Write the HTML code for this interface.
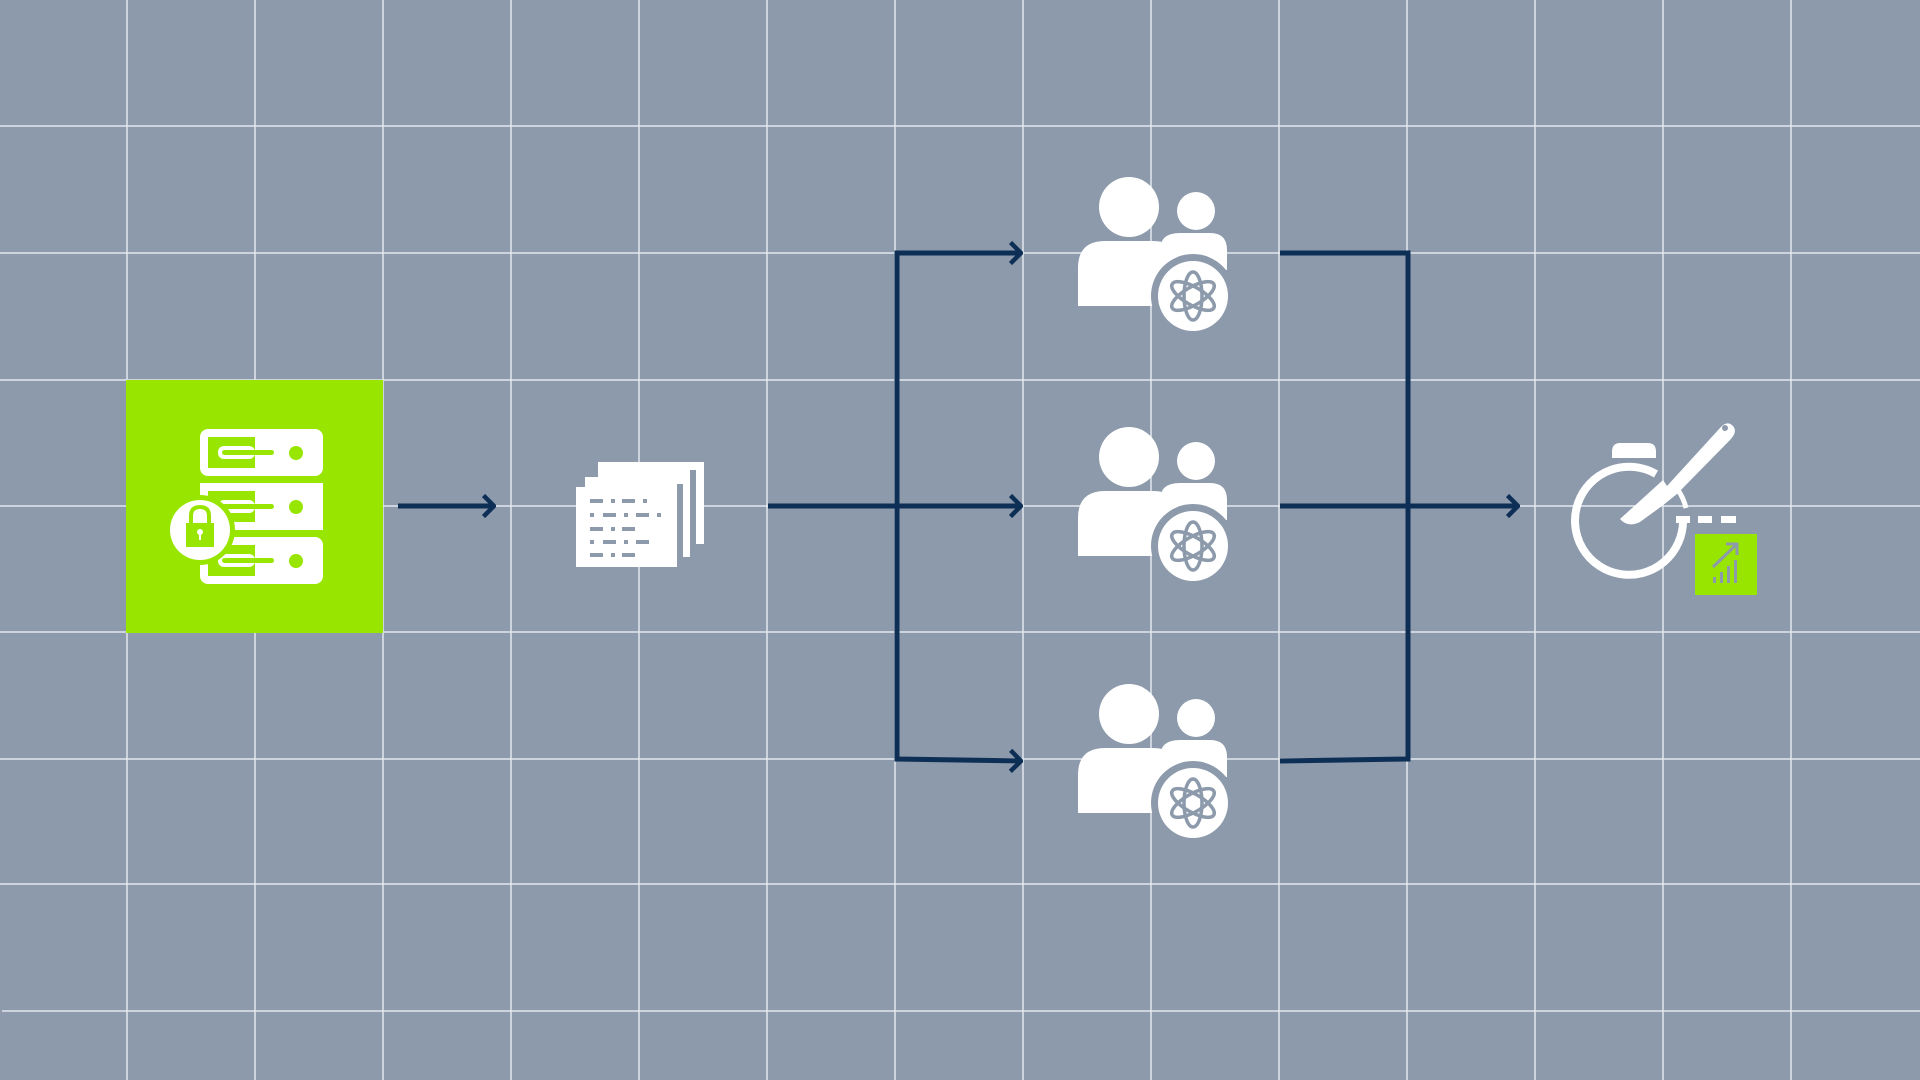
<!DOCTYPE html>
<html><head><meta charset="utf-8"><style>html,body{margin:0;padding:0;background:#8c9aab;}svg{display:block}</style></head>
<body>
<svg width="1920" height="1080" viewBox="0 0 1920 1080" xmlns="http://www.w3.org/2000/svg">
<defs>
<g id="ppl">
  <circle cx="1129" cy="207" r="30" fill="#fff"/>
  <path d="M1078 306 V268 Q1078 241 1105 241 H1153 Q1180 241 1180 268 V306 Z" fill="#fff"/>
  <circle cx="1196" cy="211" r="19" fill="#fff"/>
  <path d="M1160 260 V250 Q1160 233 1180 233 H1210 Q1227 233 1227 250 V270 H1170 Z" fill="#fff"/>
  <circle cx="1193" cy="296" r="42" fill="#8c9aab"/>
  <circle cx="1193" cy="296" r="35" fill="#fff"/>
  <g fill="none" stroke="#8c9aab" stroke-width="3.5">
    <ellipse cx="1193" cy="296" rx="24" ry="9" transform="rotate(30 1193 296)"/>
    <ellipse cx="1193" cy="296" rx="24" ry="9" transform="rotate(-30 1193 296)"/>
    <ellipse cx="1193" cy="296" rx="24" ry="9" transform="rotate(90 1193 296)"/>
  </g>
</g>
<marker id="ah" viewBox="0 0 14 24" refX="12" refY="12" markerWidth="14" markerHeight="24" markerUnits="userSpaceOnUse" orient="auto">
  <path d="M1.5 1.5 L12 12 L1.5 22.5" fill="none" stroke="#0d2f55" stroke-width="4.5"/>
</marker>
</defs>
<rect width="1920" height="1080" fill="#8c9aab"/>
<g stroke="#e4e8ee" stroke-width="1.5">
  <line x1="127" y1="0" x2="127" y2="1080"/><line x1="255" y1="0" x2="255" y2="1080"/>
  <line x1="383" y1="0" x2="383" y2="1080"/><line x1="511" y1="0" x2="511" y2="1080"/>
  <line x1="639" y1="0" x2="639" y2="1080"/><line x1="767" y1="0" x2="767" y2="1080"/>
  <line x1="895" y1="0" x2="895" y2="1080"/><line x1="1023" y1="0" x2="1023" y2="1080"/>
  <line x1="1151" y1="0" x2="1151" y2="1080"/><line x1="1279" y1="0" x2="1279" y2="1080"/>
  <line x1="1407" y1="0" x2="1407" y2="1080"/><line x1="1535" y1="0" x2="1535" y2="1080"/>
  <line x1="1663" y1="0" x2="1663" y2="1080"/><line x1="1791" y1="0" x2="1791" y2="1080"/>
  <line x1="0" y1="126" x2="1920" y2="126"/><line x1="0" y1="253" x2="1920" y2="253"/>
  <line x1="0" y1="380" x2="1920" y2="380"/><line x1="0" y1="506" x2="1920" y2="506"/>
  <line x1="0" y1="632" x2="1920" y2="632"/><line x1="0" y1="759" x2="1920" y2="759"/>
  <line x1="0" y1="884" x2="1920" y2="884"/><line x1="2" y1="1011" x2="1920" y2="1011"/>
</g>
<rect x="126" y="380" width="257" height="253" fill="#98e600"/>
<g>
  <rect x="200" y="429" width="123" height="47" rx="8" fill="#fff"/>
  <rect x="200" y="483" width="123" height="47" rx="0" fill="#fff"/>
  <rect x="200" y="537" width="123" height="47" rx="8" fill="#fff"/>
  <g fill="#98e600">
    <circle cx="296" cy="453" r="7"/><circle cx="296" cy="507" r="7"/><circle cx="296" cy="561" r="7"/>
    <rect x="208" y="437" width="47" height="31"/><rect x="208" y="491" width="47" height="31"/><rect x="208" y="545" width="47" height="31"/>
  </g>
  <g fill="#fff">
    <rect x="218" y="446" width="37" height="13" rx="6"/><rect x="218" y="500" width="37" height="13" rx="6"/><rect x="218" y="554" width="37" height="13" rx="6"/>
  </g>
  <g fill="#98e600"><rect x="222" y="450" width="52" height="5" rx="2.5"/><rect x="222" y="504" width="52" height="5" rx="2.5"/><rect x="222" y="558" width="52" height="5" rx="2.5"/></g>
  <circle cx="200" cy="530" r="35" fill="#98e600"/>
  <circle cx="200" cy="530" r="30" fill="#fff"/>
  <rect x="186" y="523" width="28" height="24" fill="#98e600"/>
  <path d="M191 523 V516 Q191 507 200 507 Q209 507 209 516 V523" fill="none" stroke="#98e600" stroke-width="4"/>
  <circle cx="200" cy="532" r="3" fill="#fff"/><rect x="199" y="533" width="2" height="7" fill="#fff"/>
</g>
<g>
  <rect x="598" y="462" width="106" height="82" fill="#fff"/>
  <rect x="690" y="470" width="6" height="74" fill="#8c9aab"/>
  <rect x="585" y="477" width="105" height="80" fill="#fff"/>
  <rect x="677" y="484" width="6" height="73" fill="#8c9aab"/>
  <rect x="576" y="487" width="101" height="80" fill="#fff"/>
  <g fill="#8c9aab">
    <rect x="590" y="499" width="13" height="4"/><rect x="611" y="499" width="4" height="4"/><rect x="622" y="499" width="13" height="4"/><rect x="643" y="499" width="4" height="4"/>
    <rect x="590" y="513" width="4" height="4"/><rect x="603" y="513" width="13" height="4"/><rect x="624" y="513" width="4" height="4"/><rect x="636" y="513" width="13" height="4"/><rect x="657" y="513" width="4" height="4"/>
    <rect x="590" y="527" width="13" height="4"/><rect x="611" y="527" width="4" height="4"/><rect x="622" y="527" width="13" height="4"/>
    <rect x="590" y="540" width="4" height="4"/><rect x="603" y="540" width="13" height="4"/><rect x="624" y="540" width="4" height="4"/><rect x="636" y="540" width="13" height="4"/>
    <rect x="590" y="553" width="13" height="4"/><rect x="611" y="553" width="4" height="4"/><rect x="622" y="553" width="13" height="4"/>
  </g>
</g>
<use href="#ppl"/>
<use href="#ppl" transform="translate(0,250)"/>
<use href="#ppl" transform="translate(0,507)"/>
<g fill="none" stroke="#0d2f55" stroke-width="5">
  <line x1="398" y1="506" x2="494" y2="506" marker-end="url(#ah)"/>
  <line x1="768" y1="506" x2="1021" y2="506" marker-end="url(#ah)"/>
  <polyline points="897,506 897,253 1021,253" marker-end="url(#ah)"/>
  <polyline points="897,506 897,759 1021,761" marker-end="url(#ah)"/>
  <polyline points="1280,253 1408,253 1408,759 1280,761"/>
  <line x1="1280" y1="506" x2="1518" y2="506" marker-end="url(#ah)"/>
</g>
<g>
  <path d="M1683 520 A54 54 0 1 1 1656 474" fill="none" stroke="#fff" stroke-width="8"/>
  <path d="M1678 490 A54 54 0 0 1 1686 508" fill="none" stroke="#fff" stroke-width="5"/>
  <path d="M1612 458 V452 Q1612 443 1620 443 H1648 Q1656 443 1656 452 V458 Z" fill="#fff"/>
  <path d="M1620 519 L1663 480 L1667 486 L1720 428 Q1727 420 1733 426 Q1738 432 1730 440 L1677 494 L1662 506 L1640 522 Q1628 528 1620 519 Z" fill="#fff"/>
  <circle cx="1725" cy="428" r="3" fill="#8c9aab"/>
  <g fill="#fff"><rect x="1676" y="516" width="14" height="7"/><rect x="1698" y="516" width="14" height="7"/><rect x="1721" y="516" width="15" height="7"/></g>
  <rect x="1695" y="534" width="62" height="61" fill="#98e600"/>
  <g stroke="#8c9aab" stroke-width="3" fill="none">
    <line x1="1713" y1="567" x2="1737" y2="544"/><polyline points="1726,544 1737,544 1737,555"/>
  </g>
  <g fill="#8c9aab"><rect x="1713" y="577" width="3" height="6"/><rect x="1720" y="572" width="3" height="11"/><rect x="1727" y="566" width="3" height="17"/><rect x="1734" y="560" width="3" height="23"/></g>
</g>
</svg>
</body></html>
